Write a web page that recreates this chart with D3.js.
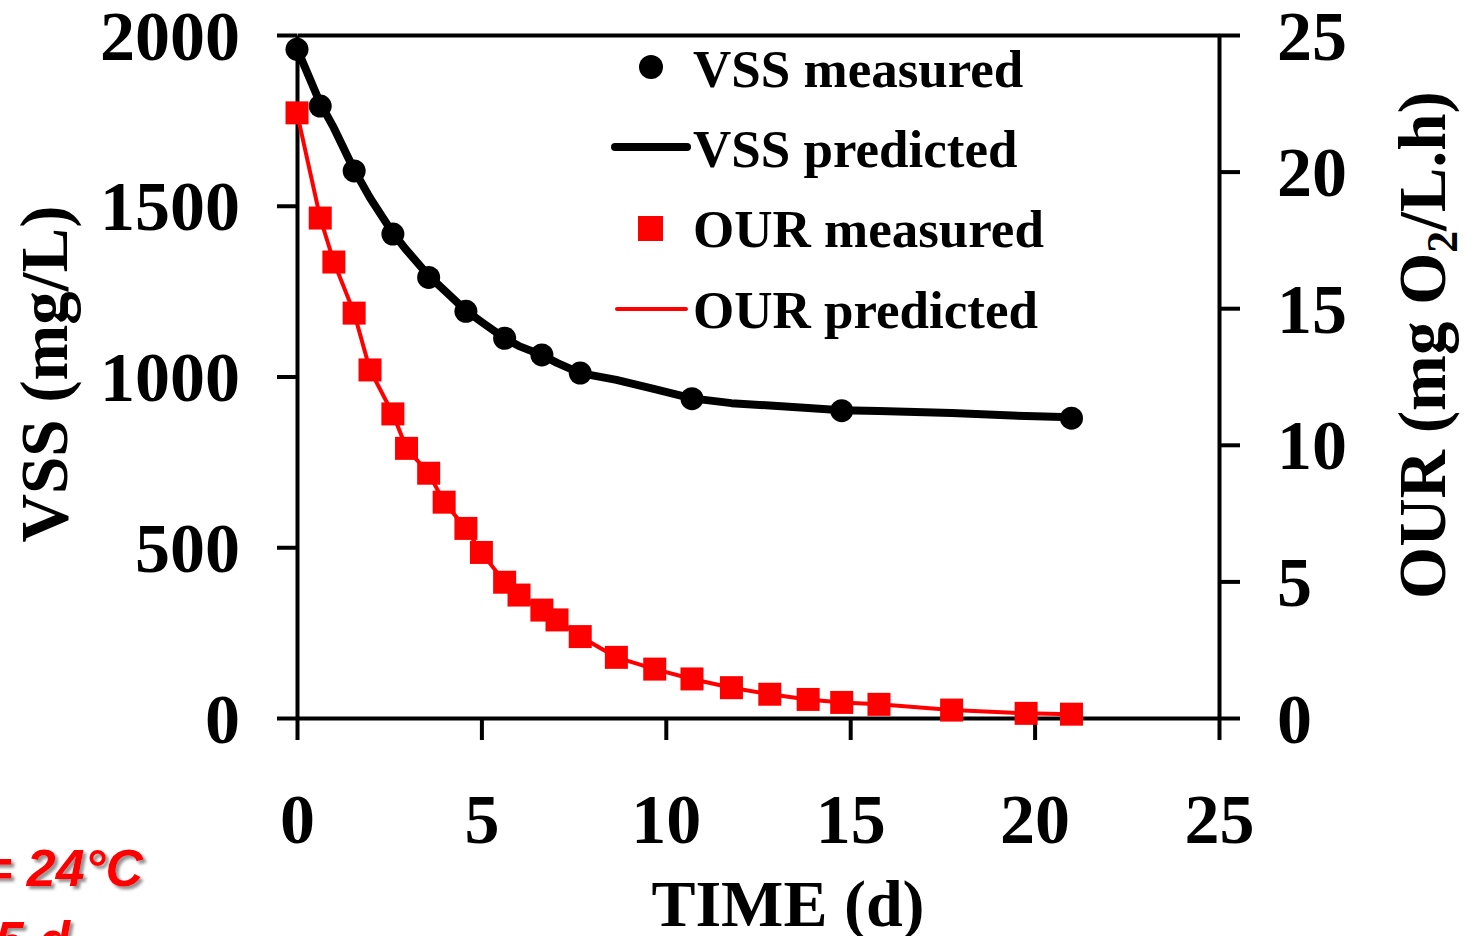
<!DOCTYPE html>
<html>
<head>
<meta charset="utf-8">
<script src="https://cdn.jsdelivr.net/npm/d3@7"></script>
<style>
  body { margin: 0; background: #fff; }
  svg { display: block; }
</style>
</head>
<body>
<svg id="chart" width="1467" height="936"></svg>
<script>
// Sampling times (d)
const vssDays = [0, 0.63, 1.55, 2.6, 3.57, 4.58, 5.63, 6.64, 7.68, 10.71, 14.77, 21.0];
const ourDays = [0, 0.63, 1.0, 1.55, 1.98, 2.6, 2.97, 3.57, 3.99, 4.58, 5.0, 5.63, 6.02, 6.64, 7.05, 7.68,
                 8.66, 9.7, 10.71, 11.78, 12.82, 13.86, 14.77, 15.78, 17.75, 19.77, 21.0];

// VSS (mg/L)
const vssMeasured = [1958, 1792, 1602, 1417, 1290, 1191, 1112, 1063, 1010, 935, 900, 878];
const vssPredicted = [1960, 1800, 1728, 1605, 1523, 1420, 1370, 1295, 1253, 1193, 1160, 1112, 1089, 1063,
                      1040, 1010, 990, 963, 936, 922, 915, 908, 901, 899, 893, 884, 881];

// OUR (mg O2/L.h)
const ourMeasured = [22.15, 18.3, 16.69, 14.82, 12.74, 11.13, 9.87, 8.96, 7.9, 6.94, 6.06, 4.97, 4.5, 3.95,
                     3.59, 2.98, 2.22, 1.79, 1.43, 1.11, 0.87, 0.68, 0.57, 0.5, 0.29, 0.17, 0.14];
const ourPredicted = [22.15, 18.3, 16.69, 14.82, 12.74, 11.13, 9.87, 8.96, 7.9, 6.94, 6.06, 4.97, 4.5, 3.95,
                      3.59, 2.98, 2.22, 1.79, 1.43, 1.11, 0.87, 0.68, 0.57, 0.5, 0.29, 0.17, 0.14];

const xTicks = [0, 5, 10, 15, 20, 25];
const vssTicks = [0, 500, 1000, 1500, 2000];
const ourTicks = [0, 5, 10, 15, 20, 25];

const serif = "'Liberation Serif', 'Times New Roman', serif";

const svg = d3.select("#chart");

// Scales
const x = d3.scaleLinear().domain([0, 25]).range([297, 1219]);
const yL = d3.scaleLinear().domain([0, 2000]).range([718, 35]);
const yR = d3.scaleLinear().domain([0, 25]).range([718, 35]);

function styleAxis(g) {
    g.select(".domain").attr("stroke", "#000").attr("stroke-width", 4);
    g.selectAll(".tick line").attr("stroke", "#000").attr("stroke-width", 4);
    g.selectAll(".tick text")
        .attr("fill", "#000")
        .style("font-family", serif)
        .style("font-weight", "bold")
        .style("font-size", "70px");
}

// Top border line
svg.append("g")
    .attr("transform", "translate(0,35)")
    .call(d3.axisTop(x).tickValues([]).tickSizeOuter(0))
    .call(styleAxis);

// Bottom axis
const xAxis = svg.append("g")
    .attr("transform", "translate(0,718)")
    .call(d3.axisBottom(x).tickValues(xTicks).tickFormat(d3.format("d")).tickSize(22).tickSizeOuter(0))
    .call(styleAxis);
xAxis.selectAll(".tick text").attr("dy", null).attr("y", 125);

// Left axis
const yAxisL = svg.append("g")
    .attr("transform", "translate(297,0)")
    .call(d3.axisLeft(yL).tickValues(vssTicks).tickFormat(d3.format("d")).tickSize(20).tickSizeOuter(0))
    .call(styleAxis);
yAxisL.selectAll(".tick text").attr("x", -57).attr("dy", null).attr("y", 24);

// Right axis
const yAxisR = svg.append("g")
    .attr("transform", "translate(1219,0)")
    .call(d3.axisRight(yR).tickValues(ourTicks).tickFormat(d3.format("d")).tickSize(21).tickSizeOuter(0))
    .call(styleAxis);
yAxisR.selectAll(".tick text").attr("x", 58).attr("dy", null).attr("y", 24);

// Axis titles
svg.append("text")
    .attr("transform", "translate(67,374) rotate(-90)")
    .attr("text-anchor", "middle")
    .style("font-family", serif).style("font-weight", "bold").style("font-size", "67px")
    .text("VSS (mg/L)");

const ourTitle = svg.append("text")
    .attr("transform", "translate(1445,345) rotate(-90)")
    .attr("text-anchor", "middle")
    .style("font-family", serif).style("font-weight", "bold").style("font-size", "67px");
ourTitle.append("tspan").text("OUR (mg O");
ourTitle.append("tspan").attr("dy", 12).style("font-size", "44px").text("2");
ourTitle.append("tspan").attr("dy", -12).text("/L.h)");

svg.append("text")
    .attr("x", 788).attr("y", 926)
    .attr("text-anchor", "middle")
    .style("font-family", serif).style("font-weight", "bold").style("font-size", "66px")
    .text("TIME (d)");

// Lines
const vssLine = d3.line()
    .x((d, i) => x(ourDays[i]))
    .y(d => yL(d));
const ourLine = d3.line()
    .x((d, i) => x(ourDays[i]))
    .y(d => yR(d));

svg.append("path")
    .datum(vssPredicted)
    .attr("fill", "none")
    .attr("stroke", "#000")
    .attr("stroke-width", 8)
    .attr("stroke-linejoin", "round")
    .attr("d", vssLine);

svg.append("path")
    .datum(ourPredicted)
    .attr("fill", "none")
    .attr("stroke", "#ff0000")
    .attr("stroke-width", 4)
    .attr("d", ourLine);

// Markers
svg.selectAll(".vss-dot")
    .data(vssMeasured)
    .enter().append("circle")
    .attr("class", "vss-dot")
    .attr("cx", (d, i) => x(vssDays[i]))
    .attr("cy", d => yL(d))
    .attr("r", 11.5)
    .attr("fill", "#000");

const sq = 23;
svg.selectAll(".our-sq")
    .data(ourMeasured)
    .enter().append("rect")
    .attr("class", "our-sq")
    .attr("x", (d, i) => x(ourDays[i]) - sq / 2)
    .attr("y", d => yR(d) - sq / 2)
    .attr("width", sq)
    .attr("height", sq)
    .attr("fill", "#ff0000");

// Legend
const legend = svg.append("g")
    .style("font-family", serif).style("font-weight", "bold").style("font-size", "53px");

legend.append("circle").attr("cx", 651).attr("cy", 67).attr("r", 12).attr("fill", "#000");
legend.append("text").attr("x", 693).attr("y", 87).text("VSS measured");

legend.append("line").attr("x1", 615).attr("x2", 687).attr("y1", 147).attr("y2", 147)
    .attr("stroke", "#000").attr("stroke-width", 8).attr("stroke-linecap", "round");
legend.append("text").attr("x", 693).attr("y", 167).text("VSS predicted");

legend.append("rect").attr("x", 638).attr("y", 216).attr("width", 25).attr("height", 25).attr("fill", "#ff0000");
legend.append("text").attr("x", 693).attr("y", 247).text("OUR measured");

legend.append("line").attr("x1", 617).attr("x2", 686).attr("y1", 309).attr("y2", 309)
    .attr("stroke", "#ff0000").attr("stroke-width", 4).attr("stroke-linecap", "round");
legend.append("text").attr("x", 693).attr("y", 328).text("OUR predicted");

// Red annotation (cut off at the page edge)
const defs = svg.append("defs");
const shadow = defs.append("filter").attr("id", "shadow")
    .attr("x", "-10%").attr("y", "-10%").attr("width", "130%").attr("height", "140%");
shadow.append("feDropShadow")
    .attr("dx", 3).attr("dy", 3).attr("stdDeviation", 1.5)
    .attr("flood-color", "#777").attr("flood-opacity", 0.8);

const note = svg.append("g")
    .attr("filter", "url(#shadow)")
    .style("font-family", "'Liberation Sans', Arial, sans-serif")
    .style("font-weight", "bold").style("font-style", "italic")
    .style("font-size", "52px")
    .attr("fill", "#ff0000");
note.append("text").attr("x", 143).attr("y", 886).attr("text-anchor", "end").text("= 24°C");
note.append("text").attr("x", 70).attr("y", 958).attr("text-anchor", "end").text("5 d");
</script>
</body>
</html>
